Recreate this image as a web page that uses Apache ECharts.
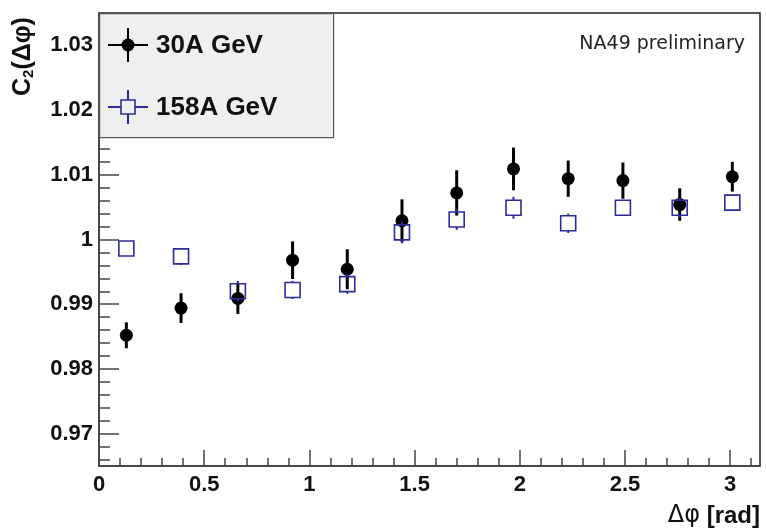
<!DOCTYPE html>
<html>
<head>
<meta charset="utf-8">
<script src="https://cdn.jsdelivr.net/npm/echarts@6.0.0/dist/echarts.min.js"></script>
<style>
  html, body { margin: 0; padding: 0; background: #fff; }
  #main { width: 766px; height: 530px; }
</style>
</head>
<body>
<div id="main"></div>
<script>
// data
const dphi = [0.13, 0.39, 0.66, 0.92, 1.18, 1.44, 1.70, 1.97, 2.23, 2.49, 2.76, 3.01];
const c2_30 = [0.9852, 0.9894, 0.9909, 0.9968, 0.9954, 1.0029, 1.0072, 1.0109, 1.0094, 1.0091, 1.0054, 1.0097];
const err_30 = [0.0020, 0.0023, 0.0024, 0.0029, 0.0031, 0.0033, 0.0035, 0.0033, 0.0028, 0.0028, 0.0025, 0.0023];
const c2_158 = [0.9986, 0.9974, 0.9920, 0.9922, 0.9931, 1.0011, 1.0031, 1.0049, 1.0025, 1.0049, 1.0049, 1.0057];
const err_158 = [0.0008, 0.0013, 0.0016, 0.0014, 0.0015, 0.0017, 0.0016, 0.0017, 0.0015, 0.0010, 0.0015, 0.0010];

const xTicks = [0, 0.5, 1, 1.5, 2, 2.5, 3];
const yTicks = [0.97, 0.98, 0.99, 1, 1.01, 1.02, 1.03];

const BLACK = '#000';
const BLUE = '#2b2b9b';
const FONT = 'Liberation Sans';
const SQUARE = 15;

// minor tick positions (0.1 on x, 0.002 on y)
const xMinor = [];
for (let i = 1; i <= 31; i++) if (i % 5) xMinor.push(+(i * 0.1).toFixed(2));
const yMinor = [];
for (let i = 0; i <= 35; i++) {
  const v = +(0.964 + i * 0.002).toFixed(3);
  if (v > 0.965 && v < 1.035 && Math.round(v * 1000) % 10) yMinor.push(v);
}

const errData = (vals, errs) => dphi.map((x, i) => [x, vals[i], errs[i]]);

// vertical error bar, leaving a gap where the marker sits
const errBars = (color, width, gap) => (params, api) => {
  const x = api.value(0), v = api.value(1), e = api.value(2);
  const c = api.coord([x, v]);
  const lo = api.coord([x, v - e]);
  const hi = api.coord([x, v + e]);
  const parts = [];
  if (lo[1] > c[1] + gap) {
    parts.push({ type: 'line', shape: { x1: c[0], y1: c[1] + gap, x2: lo[0], y2: lo[1] },
      style: { stroke: color, lineWidth: width } });
  }
  if (hi[1] < c[1] - gap) {
    parts.push({ type: 'line', shape: { x1: c[0], y1: c[1] - gap, x2: hi[0], y2: hi[1] },
      style: { stroke: color, lineWidth: width } });
  }
  return { type: 'group', children: parts };
};

const myChart = echarts.init(document.getElementById('main'));

const axisLine = { show: true, lineStyle: { color: '#444', width: 1.5 } };

const option = {
  animation: false,
  grid: {
    left: 99, right: 6, top: 13, bottom: 64,
    show: true, borderColor: '#222', borderWidth: 1.5,
  },
  xAxis: [
    {
      type: 'value', min: 0, max: Math.PI,
      axisLine,
      splitLine: { show: false },
      axisTick: { inside: true, length: 16, customValues: xTicks, lineStyle: { color: '#444', width: 1.5 } },
      axisLabel: {
        customValues: xTicks, margin: 8,
        fontFamily: FONT, fontWeight: 'bold', fontSize: 22, color: '#111',
      },
    },
    {
      type: 'value', min: 0, max: Math.PI, position: 'bottom',
      axisLine: { show: false },
      splitLine: { show: false },
      axisTick: { inside: true, length: 8, customValues: xMinor, lineStyle: { color: '#444', width: 1.5 } },
      axisLabel: { show: false },
    },
  ],
  yAxis: [
    {
      type: 'value', min: 0.965, max: 1.035,
      axisLine,
      splitLine: { show: false },
      axisTick: { inside: true, length: 20, customValues: yTicks, lineStyle: { color: '#444', width: 1.5 } },
      axisLabel: {
        customValues: yTicks, margin: 6,
        fontFamily: FONT, fontWeight: 'bold', fontSize: 22, color: '#111',
      },
    },
    {
      type: 'value', min: 0.965, max: 1.035, position: 'left',
      axisLine: { show: false },
      splitLine: { show: false },
      axisTick: { inside: true, length: 11, customValues: yMinor, lineStyle: { color: '#444', width: 1.5 } },
      axisLabel: { show: false },
    },
  ],
  series: [
    {
      type: 'custom', name: 'err30',
      renderItem: errBars(BLACK, 3, 0),
      data: errData(c2_30, err_30),
      encode: { x: 0, y: 1 },
      z: 2,
    },
    {
      type: 'scatter', name: '30A GeV',
      data: dphi.map((x, i) => [x, c2_30[i]]),
      symbol: 'circle', symbolSize: 13,
      itemStyle: { color: BLACK, opacity: 1 },
      z: 3,
    },
    {
      type: 'custom', name: 'err158',
      renderItem: errBars(BLUE, 2, SQUARE / 2),
      data: errData(c2_158, err_158),
      encode: { x: 0, y: 1 },
      z: 4,
    },
    {
      type: 'scatter', name: '158A GeV',
      data: dphi.map((x, i) => [x, c2_158[i]]),
      symbol: 'rect', symbolSize: SQUARE,
      itemStyle: { color: 'rgba(0,0,0,0)', borderColor: BLUE, borderWidth: 1.6, opacity: 1 },
      z: 5,
    },
  ],
  graphic: [
    // legend box
    { type: 'rect', left: 99, top: 13, shape: { width: 234, height: 124 },
      style: { fill: '#efefef', stroke: '#555', lineWidth: 1.2 }, z: 10 },
    { type: 'line', shape: { x1: 108, y1: 45, x2: 148, y2: 45 }, style: { stroke: BLACK, lineWidth: 2 }, z: 11 },
    { type: 'line', shape: { x1: 128, y1: 28, x2: 128, y2: 62 }, style: { stroke: BLACK, lineWidth: 2 }, z: 11 },
    { type: 'circle', shape: { cx: 128, cy: 45, r: 6.5 }, style: { fill: BLACK }, z: 11 },
    { type: 'text', left: 156, top: 33,
      style: { text: '30A GeV', font: 'bold 26px "Liberation Sans"', fill: '#111' }, z: 11 },
    { type: 'line', shape: { x1: 108, y1: 107, x2: 148, y2: 107 }, style: { stroke: BLUE, lineWidth: 2 }, z: 11 },
    { type: 'line', shape: { x1: 128, y1: 90, x2: 128, y2: 100 }, style: { stroke: BLUE, lineWidth: 2 }, z: 11 },
    { type: 'line', shape: { x1: 128, y1: 114, x2: 128, y2: 124 }, style: { stroke: BLUE, lineWidth: 2 }, z: 11 },
    { type: 'rect', shape: { x: 121, y: 100, width: 14, height: 14 },
      style: { fill: '#efefef', stroke: BLUE, lineWidth: 1.6 }, z: 11 },
    { type: 'text', left: 156, top: 95,
      style: { text: '158A GeV', font: 'bold 26px "Liberation Sans"', fill: '#111' }, z: 11 },
    // annotation
    { type: 'text', right: 21, top: 35,
      style: { text: 'NA49 preliminary', font: '19px "DejaVu Sans"', fill: '#222' }, z: 11 },
    // axis titles
    { type: 'text', right: 6, top: 504,
      style: {
        text: '{n|Δφ} [rad]',
        font: 'bold 24px "Liberation Sans"', fill: '#111',
        rich: { n: { fontFamily: 'DejaVu Sans', fontWeight: 'normal', fontSize: 24, fill: '#111' } },
      } },
    { type: 'text', x: 10, y: 96, rotation: Math.PI / 2,
      style: {
        text: 'C{s|2}(Δφ)',
        font: 'bold 25px "Liberation Sans"', fill: '#111',
        rich: { s: { fontSize: 15, fontWeight: 'bold', fontFamily: 'Liberation Sans', padding: [11, 0, 0, 0] } },
      } },
  ],
};

myChart.setOption(option);
</script>
</body>
</html>
